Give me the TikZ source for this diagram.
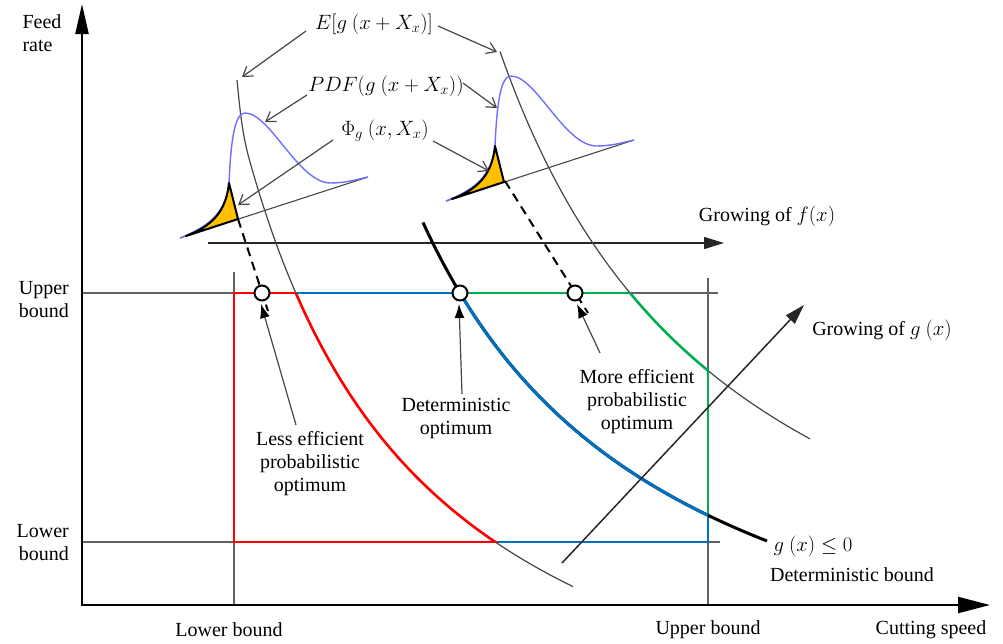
\documentclass[tikz,border=0pt]{standalone}
\usepackage{fontspec}
\setmainfont{Liberation Serif}
\usetikzlibrary{arrows.meta}
\definecolor{cblue}{RGB}{0,112,192}
\definecolor{cgreen}{RGB}{0,176,80}
\definecolor{cred}{RGB}{255,0,0}
\definecolor{corange}{RGB}{255,192,0}
\definecolor{cpdf}{RGB}{110,110,255}
\definecolor{cgray}{RGB}{70,70,70}
\tikzset{
  axisline/.style={black, line width=2.2pt, line join=miter,
    {Triangle[length=30pt,width=13pt]}-{Triangle[length=32pt,width=16pt]}},
  thinline/.style={cgray, line width=1.2pt},
  boundline/.style={cgray!85, line width=1.2pt},
  feas/.style={line width=2.6pt},
  detline/.style={line width=3pt},
  annot/.style={cgray, line width=1.2pt, -{Straight Barb[length=9pt,width=12pt]}},
  optarr/.style={cgray, line width=1.2pt, -{Latex[length=14pt,width=10pt,color=black]}},
  growarrow/.style={black!85, line width=1.5pt, -{Triangle[length=20pt,width=12pt]}},
  dashline/.style={black, line width=2pt, dash pattern=on 9pt off 6pt},
  optcirc/.style={circle, draw=black, line width=2pt, fill=white, minimum size=15pt, inner sep=0pt},
  txt/.style={align=center, inner sep=0pt, font=\fontsize{20}{23}\selectfont},
  pdfshape/.pic={
    \draw[cgray, line width=1.1pt] (0,0) -- (188,-61);
    \draw[cpdf, line width=1.4pt] (0,0) .. controls (30,-12) and (46,-26) .. (49,-55)
      .. controls (51,-100) and (55,-125) .. (65,-125)
      .. controls (90,-125) and (118,-56) .. (150,-55)
      .. controls (165,-55) and (175,-58) .. (188,-61);
    \filldraw[fill=corange, draw=black, line width=2pt, line join=round]
      (6,-2) .. controls (32,-12) and (46,-26) .. (49,-55) -- (58,-19) -- cycle;
  }
}
\begin{document}
\begin{tikzpicture}[x=1pt,y=-1pt]
\useasboundingbox (0,0) rectangle (1003,643);

% key coordinates
\coordinate (O) at (82,605);
\coordinate (Ytip) at (82,4);
\coordinate (Xtip) at (990,605);
\coordinate (ubL) at (82,293);
\coordinate (ubR) at (718,293);
\coordinate (lbL) at (82,542);
\coordinate (lbR) at (720,542);
\coordinate (vlT) at (234,272);
\coordinate (vlB) at (234,605);
\coordinate (vuT) at (708,278);
\coordinate (vuB) at (708,605);
\coordinate (r1) at (296,293);
\coordinate (r2) at (234,293);
\coordinate (r3) at (234,542);
\coordinate (r4) at (495,542);
\coordinate (gA) at (630,293);
\coordinate (gB) at (708,371);
\coordinate (gC) at (708,515);
\coordinate (bA) at (708,542);
\coordinate (f1) at (208,243);
\coordinate (f2) at (724,243);
\coordinate (ga) at (562,563);
\coordinate (gb) at (804,305);
\coordinate (d1) at (238,219);
\coordinate (d1e) at (268,311);
\coordinate (d2) at (505,181);
\coordinate (d2e) at (588,313);

% bound lines
\draw[boundline] (ubL) -- (ubR);
\draw[boundline] (lbL) -- (lbR);
\draw[boundline] (vlT) -- (vlB);
\draw[boundline] (vuT) -- (vuB);

% growing of f arrow
\draw[growarrow] (f1) -- (f2);

% expected value curves (thin)
\draw[thinline] (237,80) .. controls (240,110) and (242,134) .. (250,162)
  -- plot[domain=250:573, samples=70] (\x, {836.3-1281.09/((\x-60)/100)});
\draw[thinline] plot[domain=500:810, samples=60] (\x, {738.8-1649.56/((\x-260)/100)});

% feasible region boundaries
\draw[cred, feas] (r1) -- (r2) -- (r3) -- (r4);
\draw[cblue, feas] (r1) -- (460,293);
\draw[cgreen, feas] (460,293) -- (gA);
\draw[cgreen, feas] (gB) -- (gC);
\draw[cblue, feas] (r4) -- (bA) -- (gC);
\begin{scope}
  \clip (234,293) rectangle (708,542);
  \draw[cred, feas] plot[domain=290:500, samples=60] (\x, {836.3-1281.09/((\x-60)/100)});
  \draw[cgreen, feas] plot[domain=600:720, samples=40] (\x, {738.8-1649.56/((\x-260)/100)});
\end{scope}

% deterministic bound
\draw[black, detline] plot[domain=423:767, samples=80] (\x, {775.2-1398.41/((\x-170)/100)});
\begin{scope}
  \clip (234,293) rectangle (708,542);
  \draw[cblue, detline] plot[domain=450:715, samples=70] (\x, {775.2-1398.41/((\x-170)/100)});
\end{scope}

% growing of g arrow
\draw[growarrow] (ga) -- (gb);

% distributions
\pic at (180,238) {pdfshape};
\pic at (446,201) {pdfshape};

% dashed projections
\draw[dashline] (d1) -- (d1e);
\draw[dashline] (d2) -- (d2e);

% optima
\node[optcirc] (c1) at (262,293) {};
\node[optcirc] (c2) at (460,293) {};
\node[optcirc] (c3) at (575,293) {};

% axes
\draw[axisline] (Ytip) -- (O) -- (Xtip);

% texts
\node[txt, align=left] (feed) at (42,33) {Feed\\rate};
\node[txt, align=right, anchor=east] (ub) at (69,300) {Upper\\bound};
\node[txt, align=right, anchor=east] (lb) at (69,543) {Lower\\bound};
\node[txt] (lbx) at (229,630) {Lower bound};
\node[txt] (ubx) at (708,630) {Upper bound};
\node[txt] (cs) at (931,630) {Cutting speed};
\node[txt] (gle) at (813,546) {$g\ (x) \le 0$};
\node[txt] (detb) at (852,575) {Deterministic bound};
\node[txt] (gf) at (767,216) {Growing of $f(x)$};
\node[txt] (gg) at (882,330) {Growing of $g\ (x)$};
\node[txt] (dopt) at (456,418) {Deterministic\\optimum};
\node[txt] (lopt) at (310,464) {Less efficient\\probabilistic\\optimum};
\node[txt] (mopt) at (637,402) {More efficient\\probabilistic\\optimum};
\node[txt] (Elab) at (374,24) {$E[g\ (x+X_x)]$};
\node[txt] (Plab) at (386,86) {$PDF(g\ (x+X_x))$};
\node[txt] (Flab) at (385,131) {$\Phi_g\ (x,X_x)$};

% annotation arrows
\coordinate (eA1s) at (306,31);  \coordinate (eA1e) at (242,77);
\coordinate (eA2s) at (438,26);  \coordinate (eA2e) at (497,52);
\coordinate (pA1s) at (307,95);  \coordinate (pA1e) at (265,122);
\coordinate (pA2s) at (463,83);  \coordinate (pA2e) at (497,108);
\coordinate (fA1s) at (333,140); \coordinate (fA1e) at (238,205);
\coordinate (fA2s) at (433,141); \coordinate (fA2e) at (489,171);
\draw[annot] (eA1s) -- (eA1e);
\draw[annot] (eA2s) -- (eA2e);
\draw[annot] (pA1s) -- (pA1e);
\draw[annot] (pA2s) -- (pA2e);
\draw[annot] (fA1s) -- (fA1e);
\draw[annot] (fA2s) -- (fA2e);

\coordinate (oA1s) at (296,425); \coordinate (oA1e) at (261,304);
\coordinate (oA2s) at (462,394); \coordinate (oA2e) at (459,304);
\coordinate (oA3s) at (600,353); \coordinate (oA3e) at (577,304);
\draw[optarr] (oA1s) -- (oA1e);
\draw[optarr] (oA2s) -- (oA2e);
\draw[optarr] (oA3s) -- (oA3e);
\end{tikzpicture}
\end{document}
